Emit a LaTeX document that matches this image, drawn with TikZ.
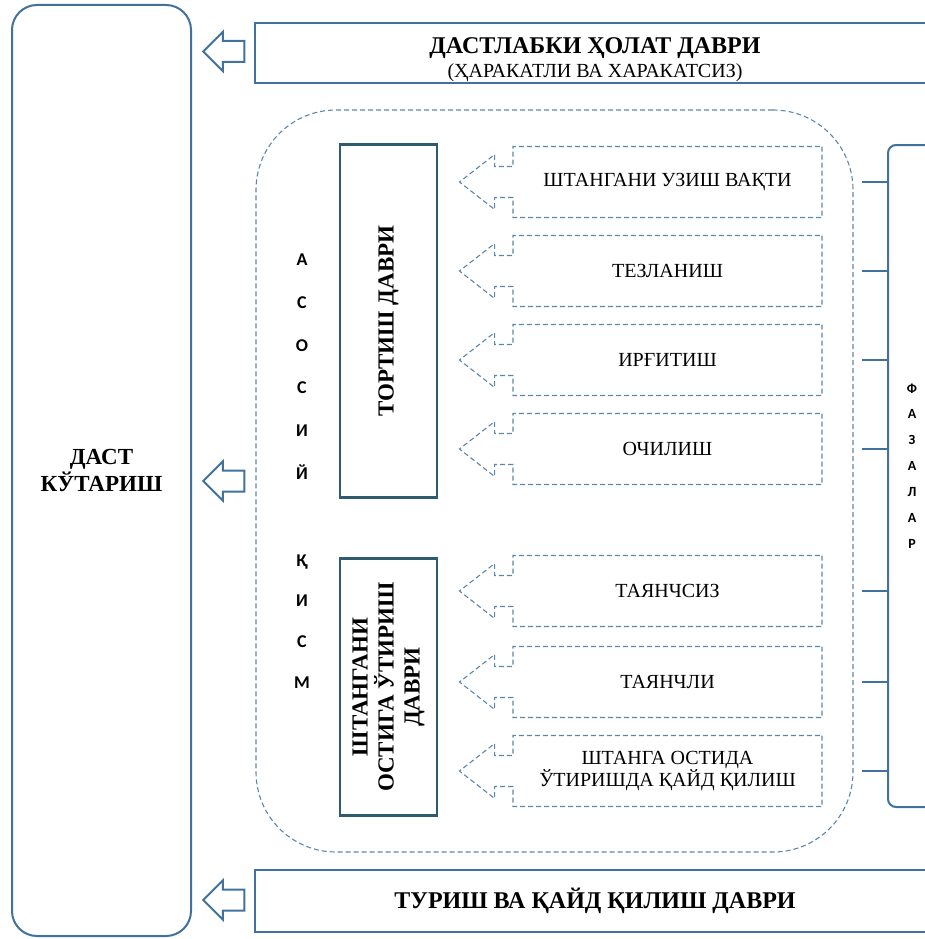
\documentclass[tikz,border=0pt]{standalone}
\usepackage{fontspec}
\setmainfont{Liberation Serif}
\setsansfont{Carlito}
\usetikzlibrary{shapes.arrows, positioning}
\definecolor{frameblue}{HTML}{41719C}
\definecolor{stageteal}{HTML}{2F5B6E}
\definecolor{dashblue}{HTML}{5E86AB}
\tikzset{
  liftbox/.style    = {draw=frameblue, line width=2pt, rounded corners=25pt,
                       align=center, font=\fontsize{23}{27}\selectfont\bfseries},
  periodbox/.style  = {draw=frameblue, line width=2pt, fill=white, align=center,
                       inner sep=0pt, font=\fontsize{24}{24}\selectfont},
  mainpart/.style   = {draw=dashblue, line width=1.1pt, dash pattern=on 5pt off 3pt,
                       rounded corners=80pt},
  stagebox/.style   = {draw=stageteal, line width=2.5pt, rotate=90, align=center,
                       inner sep=0pt, font=\fontsize{23}{26}\selectfont\bfseries},
  phasebox/.style   = {arrow box, draw=dashblue, line width=1.1pt,
                       dash pattern=on 5pt off 3pt, arrow box arrows={west:53pt},
                       arrow box shaft width=31pt, arrow box head extend=12pt,
                       arrow box tip angle=76, minimum width=309pt,
                       minimum height=71pt, inner sep=0pt, align=center,
                       font=\fontsize{20}{22}\selectfont},
  leftarrow/.style  = {single arrow, draw=frameblue, line width=2pt, fill=white,
                       shape border rotate=180, inner xsep=0pt, inner ysep=9.5pt,
                       single arrow head extend=9pt, minimum height=41pt},
  bracketbox/.style = {draw=frameblue, line width=2pt, rounded corners=8pt},
  tick/.style       = {draw=frameblue, line width=2pt},
  letter/.style     = {font=\sffamily\fontsize{18}{18}\selectfont\bfseries},
  phaseletter/.style= {font=\sffamily\fontsize{14}{14}\selectfont\bfseries},
}

\begin{document}
\begin{tikzpicture}[x=1pt, y=-1pt]
  \useasboundingbox (0,0) rectangle (925,939);
  \clip (0,0) rectangle (925,939);

  % --- whole lift ---------------------------------------------------------
  \node[liftbox, minimum width=179pt, minimum height=931pt] (lift) at (101.5,470.5)
    {ДАСТ\\КЎТАРИШ};

  % --- start and finish periods -------------------------------------------
  \node[periodbox, minimum width=680pt, minimum height=60pt] (start) at (595,53)
    {\rule{0pt}{30pt}\textbf{ДАСТЛАБКИ ҲОЛАТ ДАВРИ}\\
     {\fontsize{20}{21}\selectfont (ҲАРАКАТЛИ ВА ХАРАКАТСИЗ)}};
  \node[periodbox, minimum width=680pt, minimum height=62pt] (finish) at (595,901)
    {\textbf{ТУРИШ ВА ҚАЙД ҚИЛИШ ДАВРИ}};

  % --- main part ----------------------------------------------------------
  \node[mainpart, minimum width=597pt, minimum height=742pt] (main) at (554.5,481) {};

  \node[leftarrow] (arrStart) at (229,51.5) {};
  \node[leftarrow] (arrMain) at (229,481) {};
  \node[leftarrow] (arrFinish) at (229,900) {};

  \foreach \ch/\yy [count=\k] in {А/260, С/303, О/346, С/388, И/431, Й/472,
                                  Қ/562, И/601, С/642, М/683}
    \node[letter] (w\k) at (302,\yy) {\ch};

  \node[stagebox, minimum width=353pt, minimum height=97pt] (pull) at (388.5,321)
    {ТОРТИШ ДАВРИ};
  \node[stagebox, minimum width=257pt, minimum height=97pt] (squat) at (388.5,687)
    {ШТАНГАНИ\\ОСТИГА ЎТИРИШ\\ДАВРИ};

  % --- phases -------------------------------------------------------------
  \node[phasebox] (ph1) at (667.5,182) {ШТАНГАНИ УЗИШ ВАҚТИ};
  \node[phasebox] (ph2) at (667.5,271) {ТЕЗЛАНИШ};
  \node[phasebox] (ph3) at (667.5,360) {ИРҒИТИШ};
  \node[phasebox] (ph4) at (667.5,449) {ОЧИЛИШ};
  \node[phasebox] (ph5) at (667.5,591) {ТАЯНЧСИЗ};
  \node[phasebox] (ph6) at (667.5,682) {ТАЯНЧЛИ};
  \node[phasebox] (ph7) at (667.5,771) {ШТАНГА ОСТИДА\\ЎТИРИШДА ҚАЙД ҚИЛИШ};

  \node[bracketbox, minimum width=100pt, minimum height=662pt] (phases) at (938,476) {};
  \foreach \ch/\yy [count=\k] in {Ф/389, А/414, З/440, А/466, Л/492, А/518, Р/544}
    \node[phaseletter] (f\k) at (912,\yy) {\ch};

  \foreach \k in {1,...,7}
    \draw[tick] (phases.west |- ph\k.east) -- ++(-25,0);
\end{tikzpicture}
\end{document}
